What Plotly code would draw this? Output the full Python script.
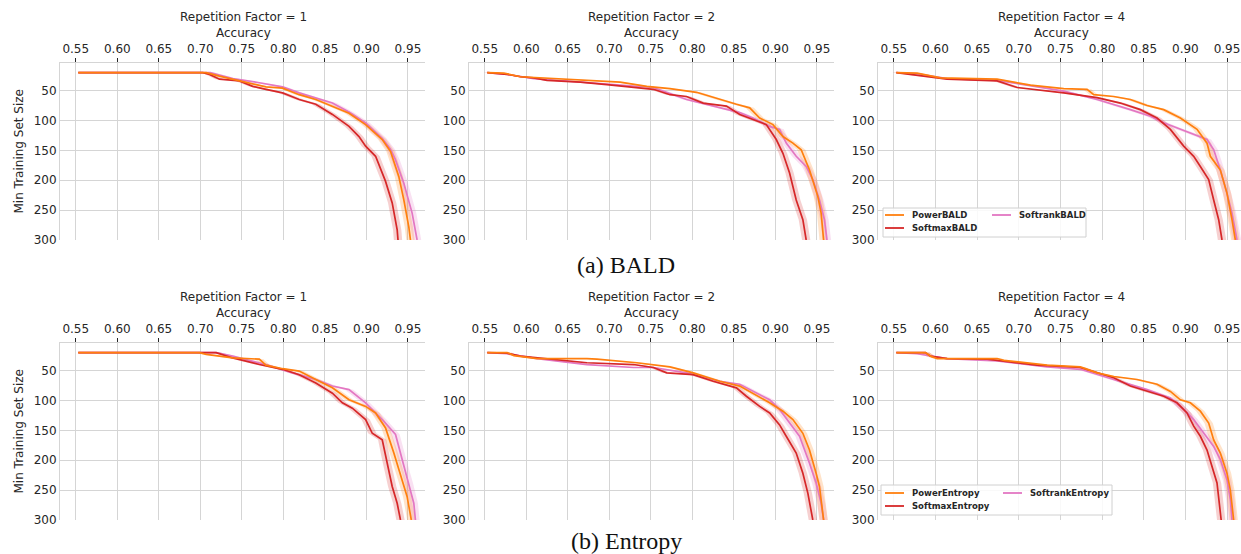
import plotly.graph_objects as go

# ---------------- data (accuracy reached vs. min training set size) ----------------
RF_LABELS = ["Repetition Factor = 1", "Repetition Factor = 2", "Repetition Factor = 4"]
X_TICKS = [0.55, 0.60, 0.65, 0.70, 0.75, 0.80, 0.85, 0.90, 0.95]
Y_TICKS = [50, 100, 150, 200, 250, 300]
BALD_NAMES = ["PowerBALD", "SoftmaxBALD", "SoftrankBALD"]
ENTROPY_NAMES = ["PowerEntropy", "SoftmaxEntropy", "SoftrankEntropy"]
CAPTIONS = ["(a) BALD", "(b) Entropy"]
BAND_HW = [0.005, 0.005, 0.005]   # half width of the shaded band (accuracy units)

# --- BALD, repetition factor 1
BALD_RF1_POWER_ACC = [0.553, 0.707, 0.723, 0.747, 0.779, 0.799, 0.819, 0.839, 0.859, 0.879, 0.899, 0.919, 0.929, 0.939, 0.945, 0.951, 0.953]
BALD_RF1_POWER_SIZE = [20, 20, 26, 34, 44, 46, 57, 65, 76, 88, 107, 132, 152, 194, 233, 278, 300]
BALD_RF1_SOFTMAX_ACC = [0.553, 0.703, 0.711, 0.723, 0.747, 0.763, 0.779, 0.799, 0.819, 0.839, 0.859, 0.879, 0.891, 0.899, 0.911, 0.923, 0.931, 0.937, 0.938]
BALD_RF1_SOFTMAX_SIZE = [20, 20, 23, 31, 34, 43, 48, 54, 65, 73, 90, 110, 127, 143, 160, 202, 238, 283, 300]
BALD_RF1_SOFTRANK_ACC = [0.553, 0.712, 0.723, 0.739, 0.771, 0.799, 0.819, 0.839, 0.859, 0.879, 0.899, 0.919, 0.929, 0.935, 0.945, 0.955, 0.961]
BALD_RF1_SOFTRANK_SIZE = [20, 20, 24, 30, 37, 44, 54, 63, 71, 86, 104, 130, 148, 166, 205, 255, 300]

# --- BALD, repetition factor 2
BALD_RF2_POWER_ACC = [0.553, 0.573, 0.593, 0.653, 0.713, 0.745, 0.773, 0.805, 0.833, 0.853, 0.869, 0.881, 0.897, 0.909, 0.921, 0.931, 0.941, 0.951, 0.955, 0.958]
BALD_RF2_POWER_SIZE = [20, 21, 27, 31, 36, 43, 47, 53, 65, 73, 79, 96, 107, 127, 138, 149, 183, 227, 255, 300]
BALD_RF2_SOFTMAX_ACC = [0.553, 0.577, 0.593, 0.609, 0.625, 0.665, 0.697, 0.753, 0.773, 0.793, 0.813, 0.841, 0.857, 0.873, 0.889, 0.901, 0.909, 0.917, 0.925, 0.933, 0.937]
BALD_RF2_SOFTMAX_SIZE = [20, 23, 27, 29, 33, 36, 40, 48, 57, 60, 71, 76, 90, 99, 107, 132, 155, 188, 233, 266, 300]
BALD_RF2_SOFTRANK_ACC = [0.553, 0.577, 0.609, 0.665, 0.697, 0.753, 0.793, 0.833, 0.857, 0.873, 0.893, 0.905, 0.913, 0.925, 0.937, 0.945, 0.953, 0.959, 0.962]
BALD_RF2_SOFTRANK_SIZE = [20, 23, 30, 36, 40, 45, 65, 79, 87, 96, 110, 115, 138, 160, 177, 199, 233, 266, 300]

# --- BALD, repetition factor 4
BALD_RF4_POWER_ACC = [0.553, 0.578, 0.606, 0.674, 0.714, 0.754, 0.782, 0.790, 0.814, 0.834, 0.854, 0.874, 0.894, 0.906, 0.914, 0.926, 0.930, 0.942, 0.950, 0.956, 0.960]
BALD_RF4_POWER_SIZE = [20, 21, 29, 31, 41, 47, 48, 57, 60, 65, 75, 82, 96, 107, 115, 138, 160, 183, 222, 266, 300]
BALD_RF4_SOFTMAX_ACC = [0.553, 0.578, 0.614, 0.674, 0.698, 0.754, 0.794, 0.822, 0.846, 0.866, 0.882, 0.898, 0.910, 0.918, 0.928, 0.934, 0.940, 0.944]
BALD_RF4_SOFTMAX_SIZE = [20, 25, 31, 34, 45, 54, 62, 71, 82, 96, 115, 143, 160, 177, 199, 233, 266, 300]
BALD_RF4_SOFTRANK_ACC = [0.553, 0.578, 0.614, 0.674, 0.754, 0.794, 0.834, 0.858, 0.874, 0.890, 0.906, 0.926, 0.934, 0.942, 0.950, 0.956, 0.962]
BALD_RF4_SOFTRANK_SIZE = [20, 22, 30, 33, 51, 65, 82, 93, 104, 113, 121, 132, 149, 183, 222, 255, 300]

# --- Entropy, repetition factor 1
ENT_RF1_POWER_ACC = [0.553, 0.699, 0.707, 0.739, 0.771, 0.779, 0.799, 0.819, 0.839, 0.859, 0.879, 0.899, 0.911, 0.923, 0.933, 0.943, 0.949, 0.954]
ENT_RF1_POWER_SIZE = [20, 20, 23, 29, 31, 41, 47, 51, 65, 79, 99, 110, 121, 146, 188, 233, 261, 300]
ENT_RF1_SOFTMAX_ACC = [0.553, 0.719, 0.739, 0.771, 0.799, 0.819, 0.839, 0.859, 0.871, 0.883, 0.899, 0.907, 0.919, 0.923, 0.931, 0.937, 0.941]
ENT_RF1_SOFTMAX_SIZE = [20, 20, 29, 40, 48, 57, 71, 88, 104, 113, 132, 155, 166, 194, 244, 272, 300]
ENT_RF1_SOFTRANK_ACC = [0.553, 0.719, 0.739, 0.779, 0.811, 0.839, 0.859, 0.879, 0.899, 0.919, 0.935, 0.943, 0.951, 0.957, 0.959]
ENT_RF1_SOFTRANK_SIZE = [20, 20, 26, 40, 54, 65, 76, 82, 104, 132, 157, 199, 238, 272, 300]

# --- Entropy, repetition factor 2
ENT_RF2_POWER_ACC = [0.553, 0.577, 0.585, 0.613, 0.673, 0.685, 0.733, 0.773, 0.801, 0.833, 0.857, 0.873, 0.893, 0.909, 0.921, 0.933, 0.941, 0.949, 0.953, 0.958]
ENT_RF2_POWER_SIZE = [20, 20, 25, 30, 30, 31, 37, 44, 54, 68, 76, 88, 104, 118, 132, 155, 183, 222, 244, 300]
ENT_RF2_SOFTMAX_ACC = [0.553, 0.577, 0.593, 0.633, 0.673, 0.729, 0.753, 0.769, 0.801, 0.825, 0.853, 0.865, 0.881, 0.893, 0.905, 0.913, 0.925, 0.933, 0.939, 0.945]
ENT_RF2_SOFTMAX_SIZE = [20, 21, 26, 31, 37, 40, 45, 54, 57, 68, 79, 93, 110, 121, 141, 160, 188, 222, 255, 300]
ENT_RF2_SOFTRANK_ACC = [0.553, 0.577, 0.613, 0.673, 0.729, 0.753, 0.793, 0.833, 0.857, 0.873, 0.893, 0.905, 0.917, 0.929, 0.941, 0.949, 0.955, 0.958]
ENT_RF2_SOFTRANK_SIZE = [20, 22, 30, 40, 45, 45, 54, 68, 73, 85, 99, 115, 138, 160, 205, 238, 272, 300]

# --- Entropy, repetition factor 4
ENT_RF4_POWER_ACC = [0.553, 0.588, 0.594, 0.602, 0.674, 0.682, 0.734, 0.774, 0.794, 0.814, 0.842, 0.866, 0.882, 0.894, 0.906, 0.918, 0.928, 0.934, 0.942, 0.950, 0.954, 0.958]
ENT_RF4_POWER_SIZE = [20, 20, 26, 30, 30, 33, 41, 44, 54, 60, 65, 73, 85, 99, 104, 118, 138, 166, 188, 222, 250, 300]
ENT_RF4_SOFTMAX_ACC = [0.553, 0.588, 0.594, 0.614, 0.662, 0.722, 0.774, 0.794, 0.814, 0.834, 0.854, 0.874, 0.890, 0.902, 0.910, 0.918, 0.926, 0.932, 0.938, 0.943]
ENT_RF4_SOFTMAX_SIZE = [20, 20, 26, 30, 31, 41, 45, 54, 62, 76, 85, 93, 104, 121, 143, 160, 183, 211, 238, 300]
ENT_RF4_SOFTRANK_ACC = [0.553, 0.578, 0.614, 0.674, 0.734, 0.774, 0.814, 0.854, 0.882, 0.898, 0.910, 0.922, 0.934, 0.942, 0.950, 0.954, 0.956]
ENT_RF4_SOFTRANK_SIZE = [20, 22, 30, 34, 44, 48, 65, 82, 96, 115, 132, 155, 177, 199, 233, 266, 300]

# ---------------- style ----------------
W, H = 1241, 554
COLORS = ["#ff7f0e", "#d62728", "#e377c2"]          # Power, Softmax, Softrank
BAND_COLORS = ["rgba(255,127,14,0.22)", "rgba(214,39,40,0.22)", "rgba(227,119,194,0.22)"]
GRID = "#d5d5d5"
TXT = "#262626"
FONT = "DejaVu Sans"

COL_PX = [(60, 425), (469, 834), (878, 1241)]
ROW_PX = [(63, 240), (343, 520)]
X_RANGES = [[0.531, 0.9705], [0.531, 0.9705], [0.531, 0.9668]]
TITLE_X = [243, 651, 1061]


def px(x):
    return x / W


def py(y):
    return 1 - y / H


panels = [
    # row 0: BALD
    [(BALD_RF1_POWER_ACC, BALD_RF1_POWER_SIZE), (BALD_RF1_SOFTMAX_ACC, BALD_RF1_SOFTMAX_SIZE), (BALD_RF1_SOFTRANK_ACC, BALD_RF1_SOFTRANK_SIZE)],
    [(BALD_RF2_POWER_ACC, BALD_RF2_POWER_SIZE), (BALD_RF2_SOFTMAX_ACC, BALD_RF2_SOFTMAX_SIZE), (BALD_RF2_SOFTRANK_ACC, BALD_RF2_SOFTRANK_SIZE)],
    [(BALD_RF4_POWER_ACC, BALD_RF4_POWER_SIZE), (BALD_RF4_SOFTMAX_ACC, BALD_RF4_SOFTMAX_SIZE), (BALD_RF4_SOFTRANK_ACC, BALD_RF4_SOFTRANK_SIZE)],
    # row 1: Entropy
    [(ENT_RF1_POWER_ACC, ENT_RF1_POWER_SIZE), (ENT_RF1_SOFTMAX_ACC, ENT_RF1_SOFTMAX_SIZE), (ENT_RF1_SOFTRANK_ACC, ENT_RF1_SOFTRANK_SIZE)],
    [(ENT_RF2_POWER_ACC, ENT_RF2_POWER_SIZE), (ENT_RF2_SOFTMAX_ACC, ENT_RF2_SOFTMAX_SIZE), (ENT_RF2_SOFTRANK_ACC, ENT_RF2_SOFTRANK_SIZE)],
    [(ENT_RF4_POWER_ACC, ENT_RF4_POWER_SIZE), (ENT_RF4_SOFTMAX_ACC, ENT_RF4_SOFTMAX_SIZE), (ENT_RF4_SOFTRANK_ACC, ENT_RF4_SOFTRANK_SIZE)],
]

fig = go.Figure()
layout = {}
annotations = []
shapes = []

for idx, series in enumerate(panels):
    row, col = divmod(idx, 3)
    n = idx + 1
    xname = "x" if n == 1 else f"x{n}"
    yname = "y" if n == 1 else f"y{n}"
    xkey = "xaxis" if n == 1 else f"xaxis{n}"
    ykey = "yaxis" if n == 1 else f"yaxis{n}"

    # draw order: Softrank, Softmax, Power (Power on top)
    for k in [2, 1, 0]:
        acc, size = series[k]
        hw = BAND_HW[k]
        bx = [a - hw for a in acc] + [a + hw for a in reversed(acc)]
        by = list(size) + list(reversed(size))
        fig.add_trace(go.Scatter(x=bx, y=by, xaxis=xname, yaxis=yname, mode="none",
                                 fill="toself", fillcolor=BAND_COLORS[k],
                                 hoverinfo="skip", showlegend=False))
    for k in [2, 1, 0]:
        acc, size = series[k]
        fig.add_trace(go.Scatter(x=acc, y=size, xaxis=xname, yaxis=yname, mode="lines",
                                 line=dict(color=COLORS[k], width=1.7), showlegend=False,
                                 name=(BALD_NAMES if row == 0 else ENTROPY_NAMES)[k]))

    x0, x1 = COL_PX[col]
    y0, y1 = ROW_PX[row]
    layout[xkey] = dict(
        domain=[px(x0), min(1.0, px(x1))], anchor=yname, side="top", automargin=False,
        range=X_RANGES[col], tickvals=X_TICKS, ticktext=[f"{v:.2f}" for v in X_TICKS],
        showgrid=True, gridcolor=GRID, gridwidth=1, zeroline=False,
        showline=True, linecolor=GRID, linewidth=1,
        ticks="outside", ticklen=4, tickcolor=TXT, tickwidth=1,
        tickfont=dict(family=FONT, size=12, color=TXT),
    )
    layout[ykey] = dict(
        domain=[py(y1), py(y0)], anchor=xname, automargin=False,
        range=[300, 4], tickvals=Y_TICKS,
        showgrid=True, gridcolor=GRID, gridwidth=1, zeroline=False,
        showline=True, linecolor=GRID, linewidth=1, ticks="",
        tickfont=dict(family=FONT, size=12, color=TXT),
    )
    # title and x-axis label (top)
    annotations.append(dict(text=RF_LABELS[col], x=px(TITLE_X[col]), y=py(y0 - 46),
                            xref="paper", yref="paper", showarrow=False, xanchor="center", yanchor="middle",
                            font=dict(family=FONT, size=12, color=TXT)))
    annotations.append(dict(text="Accuracy", x=px(TITLE_X[col]), y=py(y0 - 30),
                            xref="paper", yref="paper", showarrow=False, xanchor="center", yanchor="middle",
                            font=dict(family=FONT, size=12, color=TXT)))
    if col == 0:
        annotations.append(dict(text="Min Training Set Size", x=px(18), y=py((y0 + y1) / 2),
                                xref="paper", yref="paper", showarrow=False, textangle=-90,
                                xanchor="center", yanchor="middle",
                                font=dict(family=FONT, size=12, color=TXT)))

# captions
annotations.append(dict(text=CAPTIONS[0], x=px(626), y=py(265), xref="paper", yref="paper",
                        showarrow=False, xanchor="center", yanchor="middle",
                        font=dict(family="Liberation Serif", size=24, color="#111111")))
annotations.append(dict(text=CAPTIONS[1], x=px(626), y=py(541), xref="paper", yref="paper",
                        showarrow=False, xanchor="center", yanchor="middle",
                        font=dict(family="Liberation Serif", size=24, color="#111111")))

# manual legends (matplotlib-style two-column layout)
LEGENDS = [
    dict(box=(883, 208, 1086, 237), names=BALD_NAMES,
         pos=[(885, 215), (885, 228), (992, 215)]),
    dict(box=(881, 485, 1112, 515), names=ENTROPY_NAMES,
         pos=[(885, 493), (885, 506), (1003, 493)]),
]
for lg in LEGENDS:
    bx0, by0, bx1, by1 = lg["box"]
    shapes.append(dict(type="rect", xref="paper", yref="paper",
                       x0=px(bx0), x1=px(bx1), y0=py(by1), y1=py(by0),
                       fillcolor="rgba(255,255,255,0.85)", line=dict(color="#d0d0d0", width=1), layer="above"))
    for k, (lx, ly) in enumerate(lg["pos"]):
        shapes.append(dict(type="line", xref="paper", yref="paper",
                           x0=px(lx), x1=px(lx + 19), y0=py(ly), y1=py(ly),
                           line=dict(color=COLORS[k], width=1.8), layer="above"))
        annotations.append(dict(text="<b>" + lg["names"][k] + "</b>", x=px(lx + 25), y=py(ly),
                                xref="paper", yref="paper", showarrow=False,
                                xanchor="left", yanchor="middle",
                                font=dict(family=FONT, size=8.5, color=TXT)))

fig.update_layout(
    width=W, height=H, margin=dict(l=0, r=0, t=0, b=0, autoexpand=False),
    paper_bgcolor="white", plot_bgcolor="white",
    showlegend=False, annotations=annotations, shapes=shapes,
    **layout,
)

fig.write_html("out.html", config={"displayModeBar": False},
               post_script="document.body.style.margin='0';")
